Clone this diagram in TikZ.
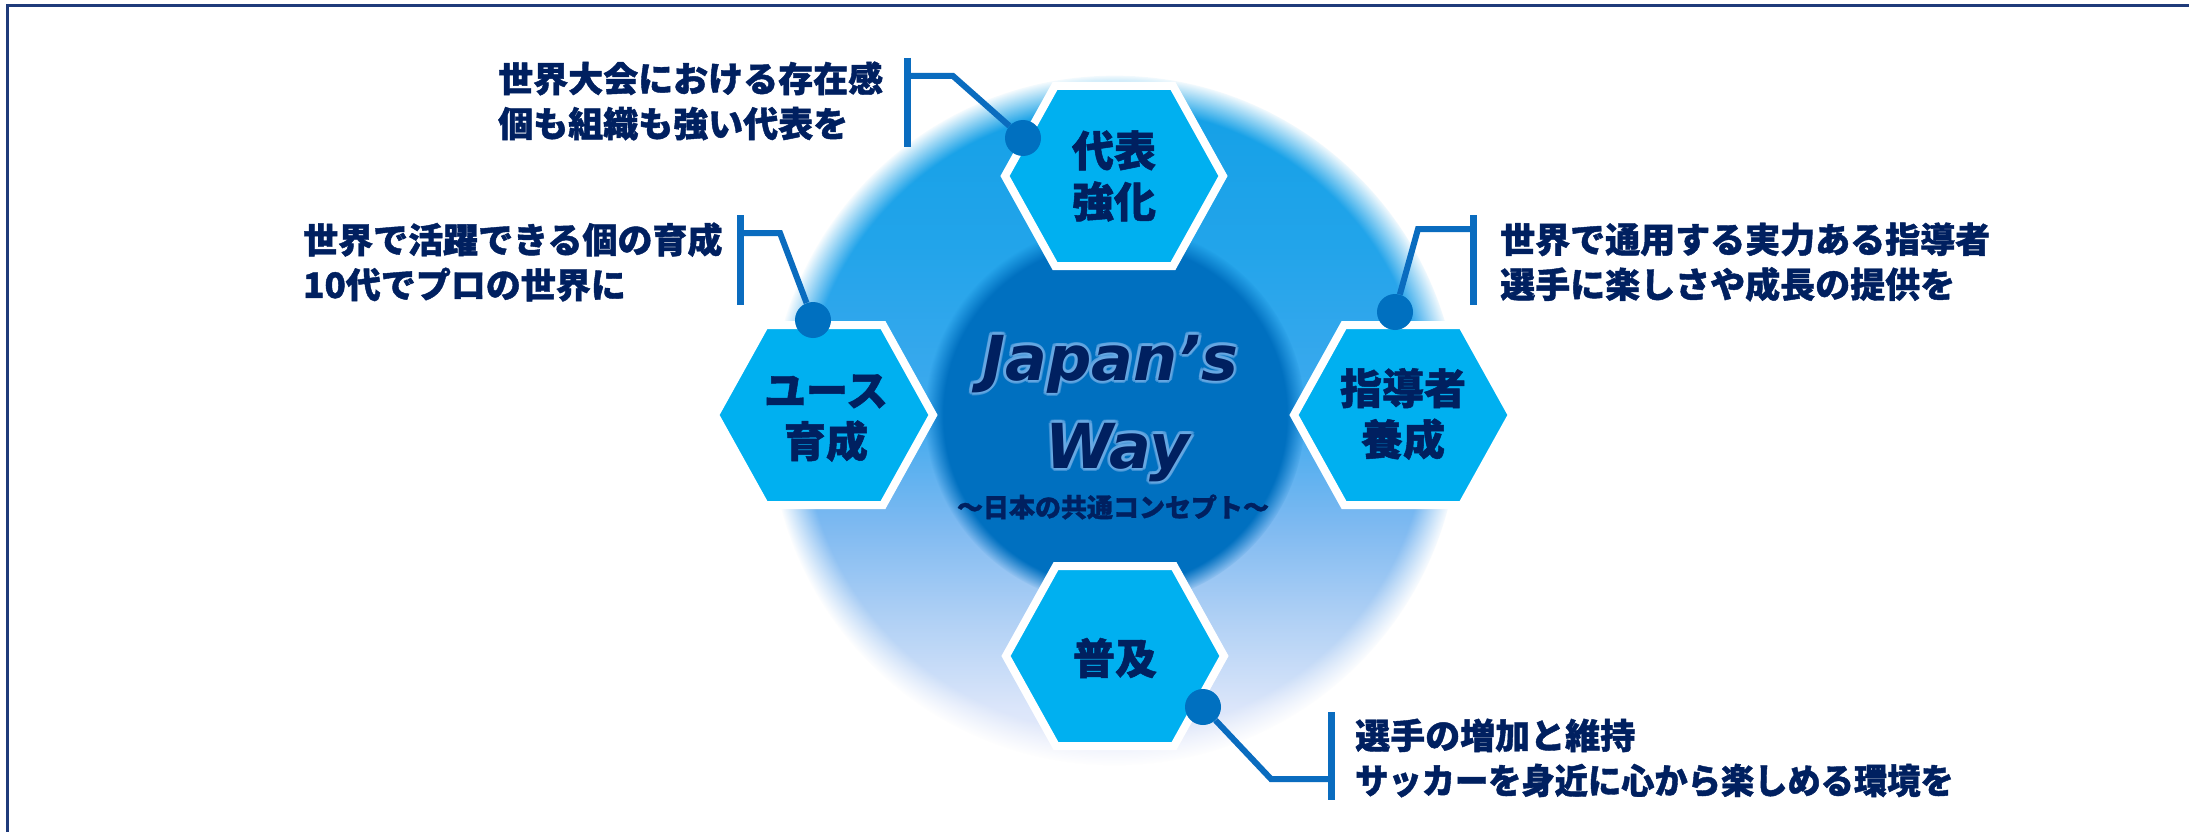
\documentclass[tikz,border=0pt]{standalone}
\usepackage{fontspec}
\newfontfamily\jp{Noto Sans CJK JP}[BoldFeatures={FakeBold=1.2}]
\newfontfamily\jpn{Noto Sans CJK JP}[FakeStretch=0.95,BoldFeatures={FakeBold=1.2}]
\newfontfamily\jwfont{DejaVu Sans}[ItalicFont={* Oblique},BoldItalicFont={* Bold Oblique}]
\usetikzlibrary{fadings,calc}
\definecolor{navy}{HTML}{002060}
\definecolor{hexcyan}{HTML}{00B0F0}
\definecolor{dotblue}{HTML}{0070C0}
\definecolor{linkblue}{HTML}{0A6CBF}
\definecolor{frameblue}{HTML}{1F3B7A}
\definecolor{glowblue}{HTML}{6AAAE4}
\definecolor{rc1}{HTML}{E8ECFB}
\definecolor{rc2}{HTML}{DCE6FA}
\definecolor{rc3}{HTML}{A9CDF4}
\definecolor{rc4}{HTML}{7DB9F1}
\definecolor{rc5}{HTML}{40AAEE}
\definecolor{rc6}{HTML}{22A4EA}
\definecolor{rc7}{HTML}{12A0E6}
\pgfdeclareverticalshading{ringshade}{100bp}{color(0bp)=(rc1); color(25bp)=(rc1); color(29bp)=(rc2); color(36.6bp)=(rc3); color(42.5bp)=(rc4); color(50bp)=(rc5); color(62.7bp)=(rc6); color(75bp)=(rc7); color(100bp)=(rc7)}
\newcommand{\hexpath}[1]{\path[hexfill] ($(#1)+(-109,0)$) -- ($(#1)+(-59,-90)$) -- ($(#1)+(59,-90)$) -- ($(#1)+(109,0)$) -- ($(#1)+(59,90)$) -- ($(#1)+(-59,90)$) -- cycle;}
\begin{document}
\begin{tikzpicture}[x=1pt,y=-1pt,
  hexfill/.style={fill=hexcyan,draw=white,line width=8pt,line join=miter},
  hexlabel/.style={font=\jp\bfseries\fontsize{42}{51}\selectfont,text=navy,align=center,inner sep=0pt},
  calltext/.style={font=\jp\bfseries\fontsize{35}{45}\selectfont,text=navy,align=left,inner sep=0pt,anchor=west},
  dotnode/.style={circle,fill=dotblue,minimum size=36pt,inner sep=0pt},
  bar/.style={draw=linkblue,line width=7pt},
  link/.style={draw=linkblue,line width=6pt,line join=miter},
  jwtext/.style={font=\jwfont\bfseries\itshape\fontsize{62}{88}\selectfont,text=navy,inner sep=0pt,anchor=base},
  jwglow/.style={font=\jwfont\bfseries\itshape\fontsize{62}{88}\selectfont,text=glowblue,inner sep=0pt,anchor=base,opacity=0.55},
  subtext/.style={font=\jp\bfseries\fontsize{26}{30}\selectfont,text=navy,inner sep=0pt}]
\useasboundingbox (0,0) rectangle (2189,832);
\fill[white] (0,0) rectangle (2189,832);
\draw[frameblue,line width=3pt] (7,832) -- (7,6) -- (2189,6);

% background circles
\coordinate (ctr) at (1115,420);
\coordinate (ictr) at (1115,415);
\shade[shading=ringshade,path fading=circle with fuzzy edge 10 percent] (ctr) circle[radius=345];
\fill[dotblue,path fading=circle with fuzzy edge 10 percent] (ictr) circle[radius=190];

% hexagon centres
\coordinate (hT) at (1114,176);
\coordinate (hL) at (824,415);
\coordinate (hR) at (1403,415);
\coordinate (hB) at (1115,656);
\hexpath{hT}
\hexpath{hL}
\hexpath{hR}
\hexpath{hB}

% hexagon labels
\node[hexlabel] (tT) at (1114,176) {代表\\強化};
\node[hexlabel] (tL) at (826,418) {ユース\\育成};
\node[hexlabel] (tR) at (1403,414) {指導者\\養成};
\node[hexlabel] (tB) at (1115,658) {普及};

% centre title
\foreach \a in {0,30,...,330}{
  \node[jwglow] (gA\a) at ($(1110,380)+(\a:3)$) {Japan’s};
  \node[jwglow] (gB\a) at ($(1118,468)+(\a:3)$) {Way};
}
\node[jwtext] (jw1) at (1110,380) {Japan’s};
\node[jwtext] (jw2) at (1118,468) {Way};
\node[subtext] (sub) at (1113,507) {～日本の共通コンセプト～};

% callout structure coordinates
\coordinate (b1t) at (907,58);  \coordinate (b1b) at (907,147); \coordinate (b1m) at (907,76);  \coordinate (e1) at (953,76);
\coordinate (b2t) at (740,215); \coordinate (b2b) at (740,305); \coordinate (b2m) at (740,233); \coordinate (e2) at (780,233);
\coordinate (b3t) at (1473,215); \coordinate (b3b) at (1473,305); \coordinate (b3m) at (1473,229); \coordinate (e3) at (1418,229);
\coordinate (b4t) at (1331,712); \coordinate (b4b) at (1331,800); \coordinate (b4m) at (1331,779); \coordinate (e4) at (1271,779);

\node[dotnode] (d1) at (1023,138) {};
\node[dotnode] (d2) at (813,320) {};
\node[dotnode] (d3) at (1395,312) {};
\node[dotnode] (d4) at (1203,707) {};

\draw[bar] (b1t) -- (b1b);
\draw[bar] (b2t) -- (b2b);
\draw[bar] (b3t) -- (b3b);
\draw[bar] (b4t) -- (b4b);
\draw[link] (b1m) -- (e1) -- (d1);
\draw[link] (b2m) -- (e2) -- (d2);
\draw[link] (b3m) -- (e3) -- (d3);
\draw[link] (b4m) -- (e4) -- (d4);

% callout texts
\node[calltext] (c1) at (498,101) {世界大会における存在感\\個も組織も強い代表を};
\node[calltext] (c2) at (303,262) {世界で活躍できる個の育成\\10代でプロの世界に};
\node[calltext] (c3) at (1500,262) {世界で通用する実力ある指導者\\選手に楽しさや成長の提供を};
\node[calltext] (c4) at (1355,758) {選手の増加と維持\\{\jpn\bfseries サッカーを身近に心から楽しめる環境を}};
\end{tikzpicture}
\end{document}
